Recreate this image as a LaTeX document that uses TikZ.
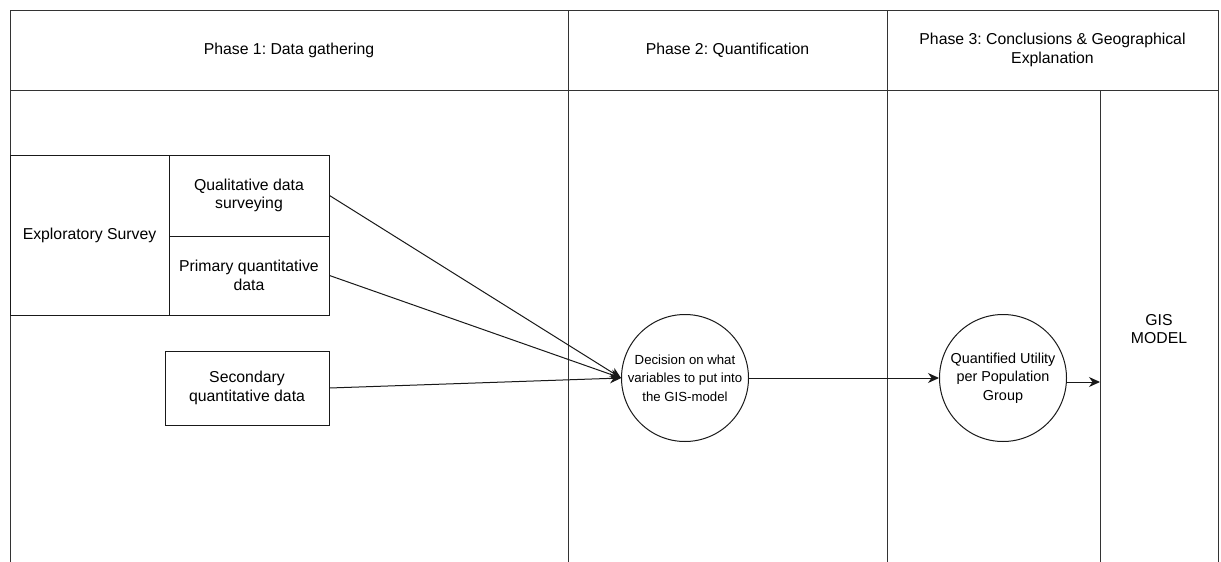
\documentclass[tikz,border=0pt]{standalone}
\usepackage{fontspec}
\setmainfont{Liberation Sans}
\usetikzlibrary{arrows.meta,positioning}
\frenchspacing

\begin{document}
\begin{tikzpicture}[
  x=1pt, y=-1pt,
  font=\fontsize{15.8}{18.6}\selectfont,
  lane/.style={draw=black!80, line width=1pt},
  box/.style={draw=black!90, line width=1pt, fill=white, align=center, inner sep=2pt},
  stage/.style={circle, draw=black!90, line width=1pt, fill=white, align=center,
    minimum size=127pt, inner sep=0pt},
  arrow/.style={-{Stealth[length=11pt, width=10pt, inset=3.5pt]}, line width=1pt, black!90}
]

\path[use as bounding box, fill=white] (0,0) rectangle (1221,562);

% swimlane frame
\draw[lane] (10,562) -- (10,10) -- (1218,10) -- (1218,562);
\draw[lane] (10,90) -- (1218,90);
\draw[lane] (568,10) -- (568,562);
\draw[lane] (887,10) -- (887,562);
\draw[lane] (1100,90) -- (1100,562);

\node (phase1) at (289,50) {Phase 1: Data gathering};
\node (phase2) at (727.5,50) {Phase 2: Quantification};
\node[align=center] (phase3) at (1052.5,50)
  {Phase 3: Conclusions \& Geographical\\Explanation};
\node[align=center] (gis) at (1159,329) {GIS\\MODEL};

% phase 1 sources
\node[box, minimum width=159pt, minimum height=160pt] (survey) at (89.5,235)
  {Exploratory Survey};
\node[box, minimum width=160pt, minimum height=81pt] (qual) at (249,195.5)
  {Qualitative data\\surveying};
\node[box, minimum width=160pt, minimum height=79pt] (prim) at (249,275.5)
  {Primary quantitative\\data};
\node[box, minimum width=164pt, minimum height=74pt] (second) at (247,388)
  {Secondary\\quantitative data};

% phase 2 and 3 stages
\node[stage, font=\fontsize{13.2}{18.7}\selectfont] (decide) at (685,378)
  {Decision on what\\variables to put into\\the GIS-model};
\node[stage, font=\fontsize{14.4}{18.7}\selectfont] (utility) at (1003,378)
  {Quantified Utility\\per Population\\Group};

\foreach \src in {qual,prim,second}
  \draw[arrow] (\src.east) -- (decide.west);
\draw[arrow] (decide) -- (utility);

\coordinate (gisedge) at (1100,382);
\draw[arrow] (utility.east |- gisedge) -- (gisedge);
\end{tikzpicture}
\end{document}
